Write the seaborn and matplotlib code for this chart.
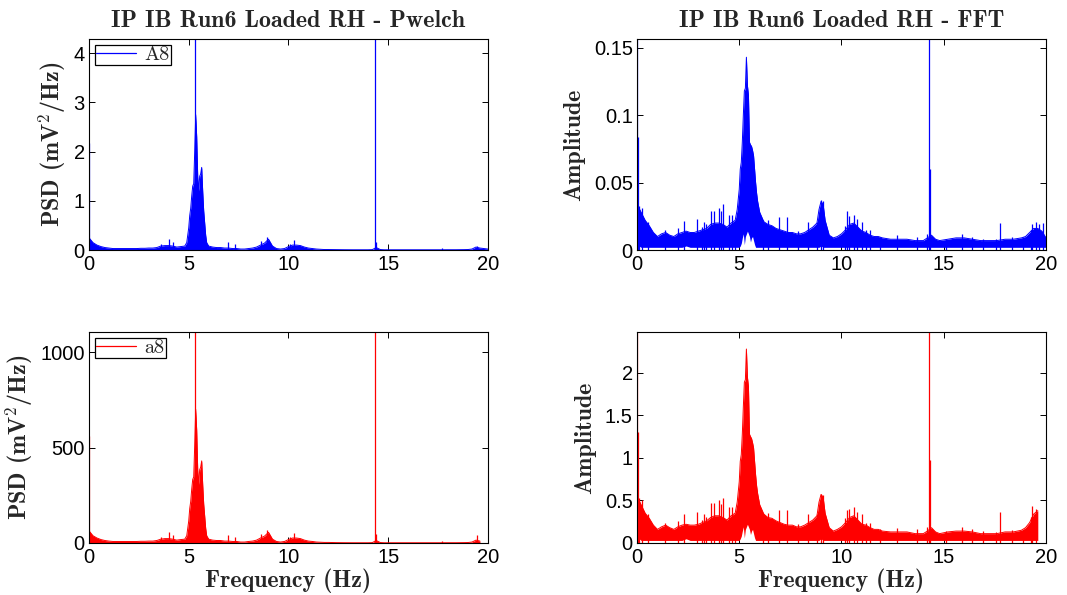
import numpy as np
import pandas as pd
import matplotlib
matplotlib.use("Agg")
import matplotlib.pyplot as plt
from matplotlib.lines import Line2D
from matplotlib.ticker import FuncFormatter
import seaborn as sns

# ---------------------------------------------------------------------------
# Spectrum data (frequency in Hz)
# ---------------------------------------------------------------------------
freq = [
    0.0, 0.1, 0.2, 0.4, 0.6, 0.8, 1.0, 1.2, 1.4, 1.6,
    1.8, 2.0, 2.2, 2.4, 2.6, 2.8, 3.0, 3.2, 3.4, 3.6,
    3.8, 4.0, 4.2, 4.4, 4.6, 4.8, 4.9, 5.0, 5.05, 5.1,
    5.15, 5.2, 5.25, 5.3, 5.35, 5.4, 5.45, 5.5, 5.55, 5.6,
    5.65, 5.7, 5.75, 5.8, 5.85, 5.9, 6.0, 6.2, 6.4, 6.6,
    6.8, 7.0, 7.2, 7.4, 7.6, 7.8, 8.0, 8.2, 8.4, 8.6,
    8.8, 8.9, 9.0, 9.1, 9.2, 9.4, 9.6, 9.8, 10.0, 10.2,
    10.4, 10.6, 10.8, 11.0, 11.2, 11.4, 11.6, 11.8, 12.0, 12.4,
    12.8, 13.2, 13.6, 14.0, 14.2, 14.4, 14.6, 14.8, 15.2, 15.6,
    16.0, 16.4, 16.8, 17.2, 17.6, 18.0, 18.4, 18.8, 19.0, 19.2,
    19.4, 19.6, 19.8, 20.0,
]

# Welch PSD envelope, channel A8 (mV^2/Hz)
psd_A8 = [
    0.25, 0.20, 0.15, 0.10, 0.07, 0.05, 0.04, 0.03, 0.03, 0.03,
    0.03, 0.03, 0.03, 0.03, 0.035, 0.035, 0.04, 0.04, 0.05, 0.08,
    0.09, 0.09, 0.08, 0.06, 0.07, 0.08, 0.15, 0.45, 0.70, 0.85,
    1.10, 1.30, 1.35, 2.00, 2.75, 2.30, 1.50, 1.20, 1.50, 1.55,
    1.68, 1.20, 0.80, 0.55, 0.30, 0.15, 0.08, 0.06, 0.05, 0.05,
    0.04, 0.04, 0.03, 0.03, 0.02, 0.02, 0.03, 0.04, 0.06, 0.10,
    0.14, 0.18, 0.22, 0.15, 0.08, 0.03, 0.02, 0.03, 0.07, 0.10,
    0.10, 0.09, 0.06, 0.04, 0.03, 0.02, 0.015, 0.01, 0.01, 0.008,
    0.006, 0.005, 0.005, 0.005, 0.008, 0.05, 0.01, 0.005, 0.005, 0.005,
    0.005, 0.005, 0.005, 0.005, 0.005, 0.006, 0.006, 0.008, 0.01, 0.02,
    0.06, 0.04, 0.03, 0.02,
]

# Welch PSD envelope, channel a8 (mV^2/Hz)
psd_a8 = [
    64, 51, 38, 26, 18, 13, 10, 8, 8, 8,
    8, 8, 8, 8, 9, 9, 10, 10, 13, 20,
    23, 23, 20, 15, 18, 20, 38, 115, 180, 218,
    282, 333, 346, 512, 700, 590, 384, 307, 384, 397,
    430, 307, 205, 141, 77, 38, 20, 15, 13, 13,
    10, 10, 8, 8, 5, 5, 8, 10, 15, 26,
    36, 46, 56, 38, 20, 8, 5, 8, 18, 26,
    26, 23, 15, 10, 8, 5, 4, 3, 3, 2,
    1.5, 1.3, 1.3, 1.3, 2, 13, 2.5, 1.3, 1.3, 1.3,
    1.3, 1.3, 1.3, 1.3, 1.3, 1.5, 1.5, 2, 2.5, 5,
    15, 10, np.nan, np.nan,
]

# FFT amplitude band (upper / lower edge), channel A8
fft_A8_hi = [
    0.030, 0.031, 0.028, 0.022, 0.018, 0.013, 0.010, 0.012, 0.013, 0.011,
    0.010, 0.012, 0.013, 0.014, 0.013, 0.013, 0.014, 0.015, 0.016, 0.019,
    0.020, 0.020, 0.019, 0.017, 0.020, 0.022, 0.030, 0.045, 0.060, 0.065,
    0.080, 0.100, 0.118, 0.120, 0.143, 0.122, 0.115, 0.080, 0.078, 0.077,
    0.074, 0.070, 0.060, 0.050, 0.042, 0.036, 0.028, 0.021, 0.019, 0.018,
    0.016, 0.015, 0.014, 0.013, 0.013, 0.012, 0.012, 0.013, 0.015, 0.017,
    0.020, 0.030, 0.036, 0.034, 0.022, 0.011, 0.009, 0.010, 0.012, 0.015,
    0.019, 0.020, 0.017, 0.014, 0.013, 0.011, 0.010, 0.010, 0.009, 0.008,
    0.008, 0.008, 0.007, 0.007, 0.009, 0.011, 0.008, 0.007, 0.008, 0.009,
    0.009, 0.008, 0.007, 0.007, 0.007, 0.008, 0.008, 0.009, 0.010, 0.013,
    0.016, 0.016, 0.014, 0.009,
]
fft_A8_lo = [
    0.003, 0.003, 0.002, 0.002, 0.002, 0.002, 0.002, 0.002, 0.002, 0.002,
    0.002, 0.002, 0.002, 0.003, 0.002, 0.002, 0.002, 0.002, 0.002, 0.002,
    0.002, 0.002, 0.002, 0.002, 0.002, 0.002, 0.002, 0.002, 0.003, 0.005,
    0.009, 0.012, 0.004, 0.010, 0.012, 0.014, 0.012, 0.010, 0.006, 0.009,
    0.010, 0.007, 0.004, 0.002, 0.002, 0.002, 0.002, 0.002, 0.002, 0.002,
    0.002, 0.002, 0.002, 0.002, 0.002, 0.002, 0.002, 0.002, 0.002, 0.002,
    0.002, 0.002, 0.003, 0.002, 0.002, 0.002, 0.002, 0.002, 0.002, 0.002,
    0.002, 0.002, 0.002, 0.002, 0.002, 0.002, 0.002, 0.002, 0.002, 0.002,
    0.002, 0.002, 0.002, 0.002, 0.002, 0.002, 0.002, 0.002, 0.002, 0.002,
    0.002, 0.002, 0.002, 0.002, 0.002, 0.002, 0.002, 0.002, 0.002, 0.002,
    0.002, 0.002, 0.002, 0.002,
]

# FFT amplitude band (upper / lower edge), channel a8
fft_a8_hi = [
    0.48, 0.50, 0.45, 0.35, 0.29, 0.21, 0.16, 0.19, 0.21, 0.18,
    0.16, 0.19, 0.21, 0.22, 0.21, 0.21, 0.22, 0.24, 0.26, 0.30,
    0.32, 0.32, 0.30, 0.27, 0.32, 0.35, 0.48, 0.72, 0.96, 1.04,
    1.28, 1.60, 1.89, 1.92, 2.28, 1.95, 1.84, 1.28, 1.25, 1.23,
    1.18, 1.12, 0.96, 0.80, 0.67, 0.58, 0.45, 0.34, 0.30, 0.29,
    0.26, 0.24, 0.22, 0.21, 0.21, 0.19, 0.19, 0.21, 0.24, 0.27,
    0.32, 0.48, 0.57, 0.54, 0.35, 0.18, 0.14, 0.16, 0.19, 0.24,
    0.30, 0.32, 0.27, 0.22, 0.21, 0.18, 0.16, 0.16, 0.14, 0.13,
    0.13, 0.13, 0.11, 0.11, 0.14, 0.18, 0.13, 0.11, 0.13, 0.14,
    0.14, 0.13, 0.11, 0.11, 0.11, 0.13, 0.13, 0.15, 0.18, 0.24,
    0.34, 0.38, np.nan, np.nan,
]
fft_a8_lo = [
    0.05, 0.05, 0.03, 0.03, 0.03, 0.03, 0.03, 0.03, 0.03, 0.03,
    0.03, 0.03, 0.03, 0.05, 0.03, 0.03, 0.03, 0.03, 0.03, 0.03,
    0.03, 0.03, 0.03, 0.03, 0.03, 0.03, 0.03, 0.03, 0.05, 0.08,
    0.14, 0.19, 0.06, 0.16, 0.19, 0.22, 0.19, 0.16, 0.10, 0.14,
    0.16, 0.11, 0.06, 0.03, 0.03, 0.03, 0.03, 0.03, 0.03, 0.03,
    0.03, 0.03, 0.03, 0.03, 0.03, 0.03, 0.03, 0.03, 0.03, 0.03,
    0.03, 0.03, 0.05, 0.03, 0.03, 0.03, 0.03, 0.03, 0.03, 0.03,
    0.03, 0.03, 0.03, 0.03, 0.03, 0.03, 0.03, 0.03, 0.03, 0.03,
    0.03, 0.03, 0.03, 0.03, 0.03, 0.03, 0.03, 0.03, 0.03, 0.03,
    0.03, 0.03, 0.03, 0.03, 0.03, 0.03, 0.03, 0.03, 0.03, 0.03,
    0.03, 0.03, np.nan, np.nan,
]

# Narrow spectral lines standing above the PSD envelopes
psd_spike_f = [0.0, 3.63, 4.03, 4.20, 5.31, 6.97, 7.34, 8.63, 8.92,
               10.09, 10.28, 14.33, 14.37, 17.70, 19.45]
psd_A8_spike = [2.17, 0.12, 0.22, 0.16, 4.60, 0.16, 0.13, 0.19, 0.27,
                0.12, 0.20, 6.00, 0.17, 0.05, 0.08]
psd_a8_spike = [560, 30, 56, 41, 1180, 41, 34, 49, 70,
                31, 51, 1500, 45, 13, 40]

# Narrow lines standing above the FFT bands
fft_spike_f = [
    0.0, 0.03, 0.12, 0.23, 0.55, 1.37, 2.02, 2.28, 2.93, 3.16,
    3.26, 3.36, 3.63, 3.78, 3.99, 4.10, 4.23, 4.51, 4.63, 4.79,
    6.18, 6.39, 6.94, 7.33, 7.89, 8.38, 8.79, 9.00, 9.11, 10.17,
    10.26, 10.38, 10.59, 10.77, 10.99, 11.20, 11.40, 11.88, 12.70, 13.68,
    14.20, 14.30, 14.33, 15.10, 15.90, 16.40, 16.90, 17.55, 17.75, 18.35,
    18.90, 19.25, 19.33, 19.50, 19.65, 19.84,
]
fft_A8_spike = [
    0.20, 0.084, 0.033, 0.031, 0.021, 0.015, 0.016, 0.0215, 0.023, 0.017,
    0.021, 0.019, 0.029, 0.029, 0.031, 0.029, 0.034, 0.026, 0.026, 0.022,
    0.022, 0.022, 0.0245, 0.0245, 0.014, 0.021, 0.021, 0.037, 0.036, 0.018,
    0.029, 0.025, 0.026, 0.023, 0.021, 0.015, 0.015, 0.010, 0.011, 0.010,
    0.012, 0.20, 0.060, 0.0085, 0.012, 0.010, 0.0085, 0.008, 0.020, 0.0095,
    0.0095, 0.0145, 0.019, 0.021, 0.019, 0.020,
]
fft_a8_spike = [
    2.60, 1.30, 0.53, 0.50, 0.34, 0.24, 0.26, 0.34, 0.37, 0.27,
    0.34, 0.30, 0.47, 0.47, 0.50, 0.46, 0.53, 0.42, 0.42, 0.35,
    0.35, 0.35, 0.39, 0.39, 0.22, 0.34, 0.34, 0.58, 0.57, 0.29,
    0.39, 0.40, 0.42, 0.37, 0.34, 0.24, 0.24, 0.16, 0.18, 0.16,
    0.19, 2.60, 0.97, 0.14, 0.19, 0.16, 0.14, 0.13, 0.37, 0.15,
    0.15, 0.30, 0.43, 0.40, np.nan, np.nan,
]

x_ticks = [0, 5, 10, 15, 20]

# ---------------------------------------------------------------------------
# Style
# ---------------------------------------------------------------------------
sns.set_theme(style="ticks")
plt.rcParams["font.family"] = ["Liberation Sans", "DejaVu Sans"]
plt.rcParams.update({
    "mathtext.fontset": "cm",
    "xtick.direction": "in",
    "ytick.direction": "in",
    "xtick.top": True,
    "ytick.right": True,
    "xtick.major.size": 4,
    "ytick.major.size": 4,
    "xtick.major.width": 0.7,
    "ytick.major.width": 0.7,
    "xtick.color": "black",
    "ytick.color": "black",
    "xtick.labelsize": 14.5,
    "ytick.labelsize": 14.5,
    "xtick.major.pad": 3.5,
    "ytick.major.pad": 3,
    "axes.edgecolor": "black",
    "axes.linewidth": 0.8,
})

BLUE = "#0000ff"
RED = "#ff0000"
LABEL_FONT = dict(fontfamily="cmb10", fontsize=17.3)

fig = plt.figure(figsize=(10.67, 5.95), dpi=100)
ax_tl = fig.add_axes([0.0834, 0.5798, 0.3739, 0.3546])
ax_tr = fig.add_axes([0.5970, 0.5798, 0.3833, 0.3546])
ax_bl = fig.add_axes([0.0834, 0.0874, 0.3739, 0.3546])
ax_br = fig.add_axes([0.5970, 0.0874, 0.3833, 0.3546])

fmt_g = FuncFormatter(lambda v, _: f"{v:g}")


def draw_band(ax, hi, lo, spike_f, spike_v, color):
    f = np.asarray(freq, dtype=float)
    hi = np.asarray(hi, dtype=float)
    lo = np.zeros_like(hi) if lo is None else np.asarray(lo, dtype=float)
    ok = ~np.isnan(hi)
    ax.fill_between(f[ok], lo[ok], hi[ok], color=color, lw=0)
    df = pd.DataFrame({"freq": f[ok], "value": hi[ok]})
    sns.lineplot(data=df, x="freq", y="value", ax=ax, color=color,
                 lw=0.7, legend=False)
    sf = np.asarray(spike_f, dtype=float)
    sv = np.asarray(spike_v, dtype=float)
    keep = ~np.isnan(sv)
    ax.vlines(sf[keep], 0, sv[keep], color=color, lw=0.9)


def style_axes(ax, ymax, yticks):
    ax.set_xlim(0, 20)
    ax.set_ylim(0, ymax)
    ax.set_xticks(x_ticks)
    ax.set_yticks(yticks)
    ax.yaxis.set_major_formatter(fmt_g)
    ax.xaxis.set_major_formatter(fmt_g)
    for s in ax.spines.values():
        s.set_visible(True)
    ax.set_xlabel("")
    ax.set_ylabel("")


def add_legend(ax, label, color):
    handle = Line2D([], [], color=color, lw=0.9)
    leg = ax.legend([handle], [label], loc="upper left", frameon=True,
                    fancybox=False, edgecolor="black", framealpha=1,
                    prop={"family": "cmr10", "size": 14.5},
                    handlelength=2.0, handletextpad=0.4,
                    borderpad=0.05, borderaxespad=0.3)
    leg.get_frame().set_linewidth(0.9)


# Pwelch, A8
draw_band(ax_tl, psd_A8, None, psd_spike_f, psd_A8_spike, BLUE)
style_axes(ax_tl, 4.29, [0, 1, 2, 3, 4])
add_legend(ax_tl, "A8", BLUE)
ax_tl.set_title("IP IB Run6 Loaded RH - Pwelch", pad=9, **LABEL_FONT)
ax_tl.set_ylabel("PSD (mV$^{\\mathbf{2}}$/Hz)", labelpad=4, **LABEL_FONT)

# FFT, A8
draw_band(ax_tr, fft_A8_hi, fft_A8_lo, fft_spike_f, fft_A8_spike, BLUE)
style_axes(ax_tr, 0.1565, [0, 0.05, 0.1, 0.15])
ax_tr.set_title("IP IB Run6 Loaded RH - FFT", pad=9, **LABEL_FONT)
ax_tr.set_ylabel("Amplitude", labelpad=6, **LABEL_FONT)

# Pwelch, a8
draw_band(ax_bl, psd_a8, None, psd_spike_f, psd_a8_spike, RED)
style_axes(ax_bl, 1105, [0, 500, 1000])
add_legend(ax_bl, "a8", RED)
ax_bl.set_ylabel("PSD (mV$^{\\mathbf{2}}$/Hz)", labelpad=4, **LABEL_FONT)
ax_bl.set_xlabel("Frequency (Hz)", labelpad=1, **LABEL_FONT)

# FFT, a8
draw_band(ax_br, fft_a8_hi, fft_a8_lo, fft_spike_f, fft_a8_spike, RED)
style_axes(ax_br, 2.48, [0, 0.5, 1, 1.5, 2])
ax_br.set_ylabel("Amplitude", labelpad=6, **LABEL_FONT)
ax_br.set_xlabel("Frequency (Hz)", labelpad=1, **LABEL_FONT)

fig.savefig("out.png", dpi=100, facecolor="white")
